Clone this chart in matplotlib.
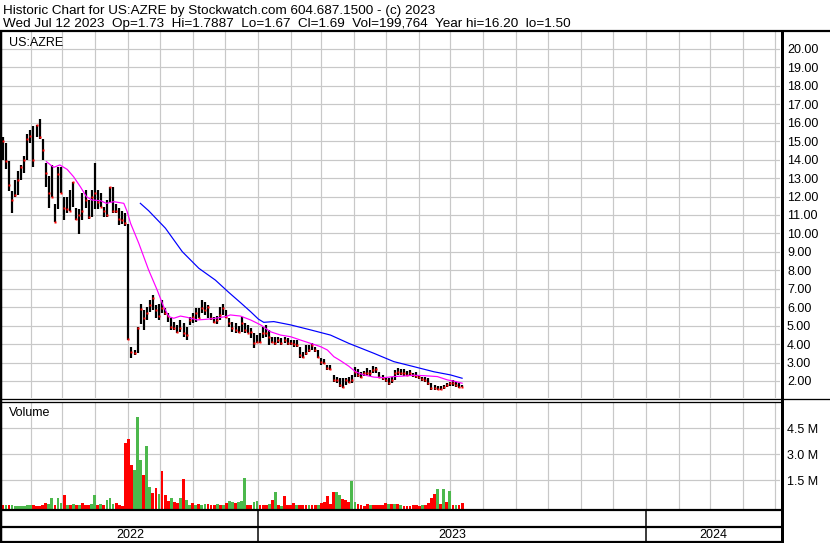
import numpy as np
import matplotlib
matplotlib.use("Agg")
import matplotlib.pyplot as plt
import matplotlib.dates as mdates
from matplotlib.lines import Line2D
import datetime as dt

plt.rcParams['font.family'] = ['Liberation Sans', 'DejaVu Sans']

# ---------------- data ----------------
title_line1 = "Historic Chart for US:AZRE by Stockwatch.com 604.687.1500 - (c) 2023"
title_line2 = "Wed Jul 12 2023  Op=1.73  Hi=1.7887  Lo=1.67  Cl=1.69  Vol=199,764  Year hi=16.20  lo=1.50"
symbol = "US:AZRE"
volume_title = "Volume"
first_date = dt.date(2022, 5, 6)
last_date = dt.date(2023, 7, 12)

high = [15.2, 14.9, 13.9, 12.3, 12.9, 13.4, 13.7, 14.2, 15.4, 15.6,
        15.8, 15.9, 16.2, 15.1, 13.8, 13.1, 13.7, 11.6, 13.6, 13.6,
        12.0, 12.0, 12.35, 12.8, 11.4, 11.3, 12.2, 12.35, 11.8, 12.35,
        13.8, 12.35, 12.2, 11.45, 11.8, 12.5, 12.5, 11.6, 11.4, 11.2,
        11.1, 10.5, 3.85, 3.7, 4.95, 6.2, 5.85, 6.03, 6.4, 6.65,
        6.1, 6.2, 6.4, 5.93, 5.67, 5.39, 5.2, 5.03, 5.3, 5.12,
        4.94, 5.48, 5.67, 5.93, 5.93, 6.39, 6.3, 6.12, 5.67, 5.48,
        5.5, 6.03, 6.2, 5.85, 5.39, 5.21, 5.12, 4.98, 5.48, 5.12,
        5.03, 4.85, 4.58, 4.49, 4.58, 4.94, 5.03, 4.76, 4.4, 4.4,
        4.4, 4.31, 4.4, 4.31, 4.22, 4.22, 4.2, 3.86, 3.59, 3.95,
        3.95, 4.04, 3.86, 3.68, 3.23, 3.2, 2.86, 2.86, 2.32, 2.23,
        2.14, 2.14, 2.14, 2.23, 2.32, 2.77, 2.63, 2.5, 2.55, 2.68,
        2.59, 2.81, 2.77, 2.5, 2.32, 2.23, 2.14, 2.23, 2.59, 2.68,
        2.63, 2.63, 2.55, 2.59, 2.45, 2.5, 2.32, 2.23, 2.23, 2.14,
        1.87, 1.78, 1.73, 1.73, 1.78, 1.87, 1.96, 2.05, 1.96, 1.87,
        1.79]
low = [14.0, 13.5, 12.3, 11.1, 12.0, 12.1, 12.9, 13.3, 14.0, 14.9,
       13.6, 15.2, 15.1, 14.0, 12.5, 11.4, 12.0, 10.6, 11.3, 12.2,
       10.7, 11.1, 11.2, 11.45, 10.7, 9.95, 10.7, 11.4, 10.8, 10.9,
       11.3, 11.3, 11.45, 10.9, 10.9, 11.7, 11.1, 11.1, 10.45, 10.5,
       10.4, 4.2, 3.23, 3.4, 3.5, 5.1, 4.76, 5.3, 5.75, 5.85,
       5.4, 5.3, 5.67, 5.57, 5.2, 4.76, 4.76, 4.58, 4.67, 4.4,
       4.22, 5.03, 5.12, 5.2, 5.39, 5.67, 5.57, 5.39, 5.3, 5.12,
       5.1, 5.3, 5.57, 5.39, 4.94, 4.67, 4.58, 4.58, 4.67, 4.58,
       4.58, 4.31, 3.77, 4.04, 4.04, 4.31, 4.4, 3.95, 4.04, 3.95,
       4.04, 3.95, 4.04, 3.95, 3.95, 3.86, 3.86, 3.23, 3.23, 3.41,
       3.59, 3.68, 3.59, 3.23, 2.86, 2.9, 2.59, 2.59, 1.96, 1.87,
       1.69, 1.6, 1.78, 1.87, 1.9, 2.23, 2.19, 2.14, 2.27, 2.32,
       2.27, 2.41, 2.45, 2.14, 2.05, 1.96, 1.78, 1.87, 2.05, 2.32,
       2.32, 2.27, 2.27, 2.32, 2.23, 2.14, 2.09, 2.01, 1.96, 1.78,
       1.51, 1.51, 1.5, 1.5, 1.55, 1.65, 1.73, 1.73, 1.65, 1.6,
       1.67]
close = [15.0, 13.9, 12.6, 11.8, 12.1, 12.9, 13.6, 14.0, 15.1, 15.3,
         14.0, 15.9, 15.2, 14.5, 13.3, 12.2, 12.0, 10.6, 13.2, 12.2,
         11.4, 11.3, 11.2, 12.8, 10.8, 11.0, 11.2, 11.8, 10.9, 12.0,
         12.2, 11.7, 11.45, 11.2, 11.0, 12.5, 11.2, 11.2, 10.8, 10.7,
         10.55, 4.3, 3.59, 3.5, 4.85, 5.9, 5.4, 5.7, 6.1, 6.5,
         5.85, 5.5, 5.95, 5.7, 5.5, 4.94, 4.85, 4.67, 4.85, 4.58,
         4.49, 5.3, 5.48, 5.67, 5.39, 5.93, 5.85, 6.03, 5.4, 5.2,
         5.3, 5.57, 5.93, 5.48, 5.12, 4.85, 4.76, 4.67, 5.12, 4.76,
         4.62, 4.67, 4.08, 4.13, 4.13, 4.58, 4.58, 4.4, 4.13, 4.08,
         4.22, 4.08, 4.22, 4.04, 4.04, 3.99, 3.95, 3.41, 3.32, 3.5,
         3.68, 3.95, 3.68, 3.32, 3.05, 3.0, 2.68, 2.63, 2.05, 2.05,
         1.78, 1.69, 2.05, 1.96, 2.05, 2.5, 2.32, 2.23, 2.41, 2.45,
         2.41, 2.59, 2.63, 2.23, 2.14, 2.05, 1.87, 2.05, 2.41, 2.5,
         2.41, 2.45, 2.32, 2.45, 2.32, 2.27, 2.19, 2.09, 2.05, 1.87,
         1.6, 1.6, 1.58, 1.58, 1.69, 1.78, 1.87, 1.87, 1.78, 1.69,
         1.69]
volume_m = [0.08, 0.08, 0.1, 0.05, 0.03, 0.03, 0.03, 0.03, 0.06, 0.06,
            0.08, 0.04, 0.04, 0.05, 0.2, 0.12, 0.46, 0.08, 0.46, 0.18,
            0.65, 0.1, 0.08, 0.15, 0.08, 0.1, 0.2, 0.06, 0.06, 0.15,
            0.65, 0.1, 0.15, 0.1, 0.35, 0.46, 0.15, 0.2, 0.08, 0.04,
            3.63, 3.9, 2.4, 2.1, 5.15, 2.67, 1.8, 3.48, 1.1, 0.75,
            1.05, 0.7, 2.05, 0.65, 0.3, 0.46, 0.25, 0.2, 0.46, 1.55,
            0.38, 0.1, 0.2, 0.1, 0.15, 0.1, 0.15, 0.15, 0.1, 0.05,
            0.12, 0.05, 0.08, 0.2, 0.3, 0.25, 0.2, 0.25, 0.3, 1.62,
            0.1, 0.08, 0.25, 0.3, 0.08, 0.05, 0.05, 0.12, 0.35, 0.83,
            0.08, 0.04, 0.58, 0.08, 0.08, 0.2, 0.05, 0.08, 0.1, 0.05,
            0.1, 0.05, 0.08, 0.05, 0.2, 0.25, 0.62, 0.12, 0.83, 0.83,
            0.65, 0.4, 0.35, 0.25, 1.45, 0.25, 0.12, 0.05, 0.03, 0.15,
            0.1, 0.08, 0.05, 0.08, 0.05, 0.2, 0.15, 0.15, 0.15, 0.12,
            0.05, 0.03, 0.03, 0.03, 0.05, 0.05, 0.04, 0.05, 0.1, 0.2,
            0.46, 0.7, 1.0, 0.15, 1.0, 0.25, 0.9, 0.05, 0.08, 0.05,
            0.2]
volume_dir = ("RGRGGGGGGG" "RRRRRGGRGG" "RGRGRGRRRG" "GRGRGGGRRR"
              "RRRGGGRGGR" "RGRRRGRRGR" "GGRGRGGRRR" "GRGRGGRGGG"
              "RRGGRRRGRG" "RGRRRRGRRR" "GRRGRRRRRG" "GRRRGGRRRR"
              "GRRRRRGRGR" "GRRRRRRGRR" "RRGRGRGRGR" "R")

ma_short_idx = [14.2, 16.6, 18.6, 21, 23.1, 25.3, 27.3, 29.1, 31.9, 33.8, 36.2,
                39.5, 40.6, 41.7, 44.4, 47.6, 50.4, 52.5, 54.2, 55.8, 58, 60.2,
                63.5, 66.2, 69.4, 72.7, 74.3, 77.6, 80.9, 84.2, 87.4, 90.7, 94,
                97.2, 100.5, 103.8, 106, 108.1, 110.3, 113, 115.2, 117.9, 121.2,
                124.4, 127.7, 131, 134.2, 137.5, 141.9, 145.2, 147.9, 150]
ma_short_val = [13.89, 13.58, 13.71, 13.47, 13.07, 12.53, 11.99, 11.81, 11.77,
                11.63, 11.72, 11.63, 11.18, 10.55, 9.46, 8.02, 6.93, 6.03, 5.49,
                5.40, 5.52, 5.45, 5.31, 5.34, 5.40, 5.49, 5.58, 5.52, 5.31, 5.04,
                4.67, 4.49, 4.40, 4.22, 4.04, 3.86, 3.68, 3.32, 3.1, 2.8, 2.50,
                2.33, 2.21, 2.18, 2.24, 2.27, 2.31, 2.29, 2.24, 2.06, 1.97, 1.88]
ma_long_idx = [44.9, 47.6, 53.1, 58.6, 64, 69.4, 73.8, 77.6, 80.9, 83.5, 85.2,
               88.5, 94, 100.5, 107, 113, 121.2, 127.7, 134.2, 140.8, 146.2, 150]
ma_long_val = [11.63, 11.23, 10.28, 9.01, 8.11, 7.47, 6.8, 6.25, 5.76, 5.35, 5.18,
               5.22, 5.04, 4.77, 4.49, 4.04, 3.5, 3.05, 2.78, 2.5, 2.33, 2.15]

price_ticks = list(range(2, 21))
volume_ticks = [1.5, 3.0, 4.5]
year_labels = ["2022", "2023", "2024"]

# ---------------- layout helpers ----------------
W, H = 830, 543
fig = plt.figure(figsize=(W / 100, H / 100), dpi=100)
fig.patch.set_facecolor("white")


def fx(px):
    return px / W


def fy(py):
    return 1 - py / H


def pt(px):
    return px * 0.72


def fline(x0, y0, x1, y1, lw_px, color="black"):
    fig.add_artist(Line2D([fx(x0), fx(x1)], [fy(y0), fy(y1)],
                          transform=fig.transFigure, lw=pt(lw_px),
                          color=color, solid_capstyle="butt"))


GRID = "#c8c8c8"
n = len(close)
d0 = mdates.date2num(first_date)
step = (mdates.date2num(last_date) - d0) / (n - 1)
xs = d0 + step * np.arange(n)


def idx_to_x(idx):
    return d0 + step * np.asarray(idx, dtype=float)


jan23 = mdates.date2num(dt.date(2023, 1, 1))
jan24 = mdates.date2num(dt.date(2024, 1, 1))
px_per_day = (646 - 258) / (jan24 - jan23)
xlim = (jan23 - (258 - 2) / px_per_day, jan23 + (780 - 258) / px_per_day)

month_lines = [mdates.date2num(dt.date(2022 + (m - 1) // 12, (m - 1) % 12 + 1, 1))
               for m in range(6, 30)]
month_lines = [m for m in month_lines if xlim[0] < m < xlim[1]]

# ---------------- price panel ----------------
ax_p = fig.add_axes([fx(2), fy(398), fx(780) - fx(2), fy(32) - fy(398)])
ax_p.set_xlim(*xlim)
ax_p.set_ylim(20 - (398 - 48.9) / 18.45, 20 - (32 - 48.9) / 18.45)
for m in month_lines:
    ax_p.axvline(m, color=GRID, lw=pt(1.2), zorder=0)
for p in price_ticks:
    ax_p.axhline(p, color=GRID, lw=pt(1.2), zorder=0)
ax_p.vlines(xs, low, high, color="black", lw=pt(2.2), zorder=3)
ax_p.plot(xs, close, ls="none", marker="s", ms=pt(2.2), color="#ff0000",
          mec="none", zorder=4)
ax_p.plot(idx_to_x(ma_short_idx), ma_short_val, color="#ff00ff", lw=pt(1.2), zorder=5)
ax_p.plot(idx_to_x(ma_long_idx), ma_long_val, color="#0000ff", lw=pt(1.2), zorder=5)
ax_p.yaxis.tick_right()
ax_p.set_yticks(price_ticks)
ax_p.set_yticklabels([f"{p:.2f}" for p in price_ticks])
ax_p.tick_params(axis="y", length=0, pad=pt(7), labelsize=9)
ax_p.set_xticks([])
for s in ax_p.spines.values():
    s.set_visible(False)
ax_p.text(0.009, 0.97, symbol, transform=ax_p.transAxes, fontsize=9,
          va="center", ha="left")

# ---------------- volume panel ----------------
ax_v = fig.add_axes([fx(2), fy(509.5), fx(780) - fx(2), fy(402.5) - fy(509.5)])
vmin = 1.5 * (506.3 - 509.5) / 26
vmax = 1.5 * (506.3 - 402.5) / 26
ax_v.set_xlim(*xlim)
ax_v.set_ylim(vmin, vmax)
for m in month_lines:
    ax_v.axvline(m, color=GRID, lw=pt(1.2), zorder=0)
for v in volume_ticks:
    ax_v.axhline(v, color=GRID, lw=pt(1.2), zorder=0)
vcolors = ["#4cb84c" if c == "G" else "#ff0000" for c in volume_dir]
vol = np.array(volume_m)
ax_v.bar(xs, vol - vmin, bottom=vmin, width=step * 0.92, color=vcolors,
         edgecolor="none", linewidth=0, zorder=3)
ax_v.yaxis.tick_right()
ax_v.set_yticks(volume_ticks)
ax_v.set_yticklabels([f"{v:.1f} M" for v in volume_ticks])
ax_v.tick_params(axis="y", length=0, pad=pt(7), labelsize=9)
ax_v.set_xticks([])
for s in ax_v.spines.values():
    s.set_visible(False)
ax_v.text(0.009, 0.9, volume_title, transform=ax_v.transAxes, fontsize=9,
          va="center", ha="left")

# ---------------- bottom date strip ----------------
ax_b = fig.add_axes([fx(2), fy(541.5), fx(780) - fx(2), fy(510) - fy(541.5)])
ax_b.set_xlim(*xlim)
ax_b.set_ylim(0, 1)
ax_b.axis("off")
for b in (jan23, jan24):
    ax_b.axvline(b, color="black", lw=pt(1.5))
year_bounds = [xlim[0], jan23, jan24, xlim[1]]
for k, lab in enumerate(year_labels):
    ax_b.text((year_bounds[k] + year_bounds[k + 1]) / 2, 0.22, lab,
              ha="center", va="center", fontsize=9)

# ---------------- frame lines ----------------
fline(0, 30.5, W, 30.5, 2.2)            # under header
fline(1.2, 30, 1.2, 542, 2.5)           # left border
fline(781.5, 30, 781.5, H, 3)           # right axis border
fline(0, 399.2, W, 399.2, 1.3)          # price/volume double line
fline(0, 402.2, 781, 402.2, 1.3)
fline(0, 509.8, 781, 509.8, 2.2)
fline(0, 526.7, 781, 526.7, 2.2)
fline(0, 541.7, 781, 541.7, 2.2)

# ---------------- header ----------------
fig.text(fx(3), fy(14), title_line1, fontsize=9.7, va="baseline", ha="left")
fig.text(fx(3), fy(27.5), title_line2, fontsize=9.7, va="baseline", ha="left")

fig.savefig("out.png", dpi=100, facecolor="white")
